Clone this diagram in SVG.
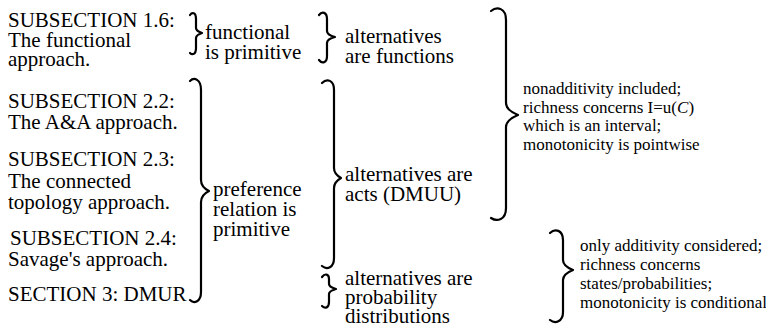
<svg xmlns="http://www.w3.org/2000/svg" width="766" height="331" viewBox="0 0 766 331">
<style>
.l{font-size:21px}
.r{font-size:17px}
.br{fill:none;stroke:#000;stroke-width:2.2;stroke-linecap:round;stroke-linejoin:round}
</style>
<rect width="766" height="331" fill="#fff"/>
<g id="connectors">
<path class="br" d="M190 15 C192 12 196 12 196 19 L196 28 Q196 31 202 33 Q196 35 196 38 L196 48 C196 55 192 55 190 53"/>
<path class="br" d="M190 81 C194 77 201 79 201 90 L201 180 Q201 187 209 191 Q201 195 201 202 L201 292 C201 302 194 304 190 300"/>
<path class="br" d="M319 15 C322 11 327 12 327 19 L327 31 Q327 35 335 37 Q327 39 327 43 L327 56 C327 63 322 64 319 60"/>
<path class="br" d="M322 83 C327 78 334 80 334 90 L334 168 Q334 174 341 178 Q334 182 334 188 L334 258 C334 268 327 270 322 266"/>
<path class="br" d="M322 277 C325 273 329 274 329 279 L329 284 Q329 287 336 289 Q329 291 329 294 L329 302 C329 308 325 309 322 306"/>
<path class="br" d="M491 11 C497 6 506 8 506 20 L506 103 Q506 110 518 115 Q506 120 506 127 L506 208 C506 220 497 222 491 218"/>
<path class="br" d="M550 233 C555 228 563 230 563 240 L563 260 Q563 266 573 270 Q563 274 563 280 L563 312 C563 322 555 324 550 320"/>
</g>
<g font-family="'Liberation Serif', 'DejaVu Serif', 'Times New Roman', serif" fill="#000">
<g id="sub16" class="l">
<text x="8" y="27">SUBSECTION 1.6:</text>
<text x="8" y="47">The functional</text>
<text x="8" y="66">approach.</text>
</g>
<g id="sub22" class="l">
<text x="8" y="108">SUBSECTION 2.2:</text>
<text x="8" y="129">The A&amp;A approach.</text>
</g>
<g id="sub23" class="l">
<text x="8" y="166">SUBSECTION 2.3:</text>
<text x="8" y="188">The connected</text>
<text x="8" y="209">topology approach.</text>
</g>
<g id="sub24" class="l">
<text x="10" y="245">SUBSECTION 2.4:</text>
<text x="8" y="266">Savage's approach.</text>
</g>
<g id="sec3" class="l">
<text x="8" y="301">SECTION 3: DMUR</text>
</g>
<g id="functional" class="l">
<text x="205" y="39">functional</text>
<text x="205" y="59">is primitive</text>
</g>
<g id="preference" class="l">
<text x="213" y="196">preference</text>
<text x="213" y="216">relation is</text>
<text x="213" y="236">primitive</text>
</g>
<g id="altfunctions" class="l">
<text x="345" y="43">alternatives</text>
<text x="345" y="63">are functions</text>
</g>
<g id="altacts" class="l">
<text x="345" y="181">alternatives are</text>
<text x="345" y="201">acts (DMUU)</text>
</g>
<g id="altprob" class="l">
<text x="345" y="285">alternatives are</text>
<text x="345" y="304">probability</text>
<text x="345" y="323">distributions</text>
</g>
<g id="nonadditivity" class="r">
<text x="523" y="94">nonadditivity included;</text>
<text x="523" y="113">richness concerns I=u(<tspan font-style="italic">C</tspan>)</text>
<text x="523" y="131">which is an interval;</text>
<text x="523" y="150">monotonicity is pointwise</text>
</g>
<g id="additivity" class="r">
<text x="580" y="251">only additivity considered;</text>
<text x="580" y="270">richness concerns</text>
<text x="580" y="289">states/probabilities;</text>
<text x="580" y="308">monotonicity is conditional</text>
</g>
</g>
</svg>
